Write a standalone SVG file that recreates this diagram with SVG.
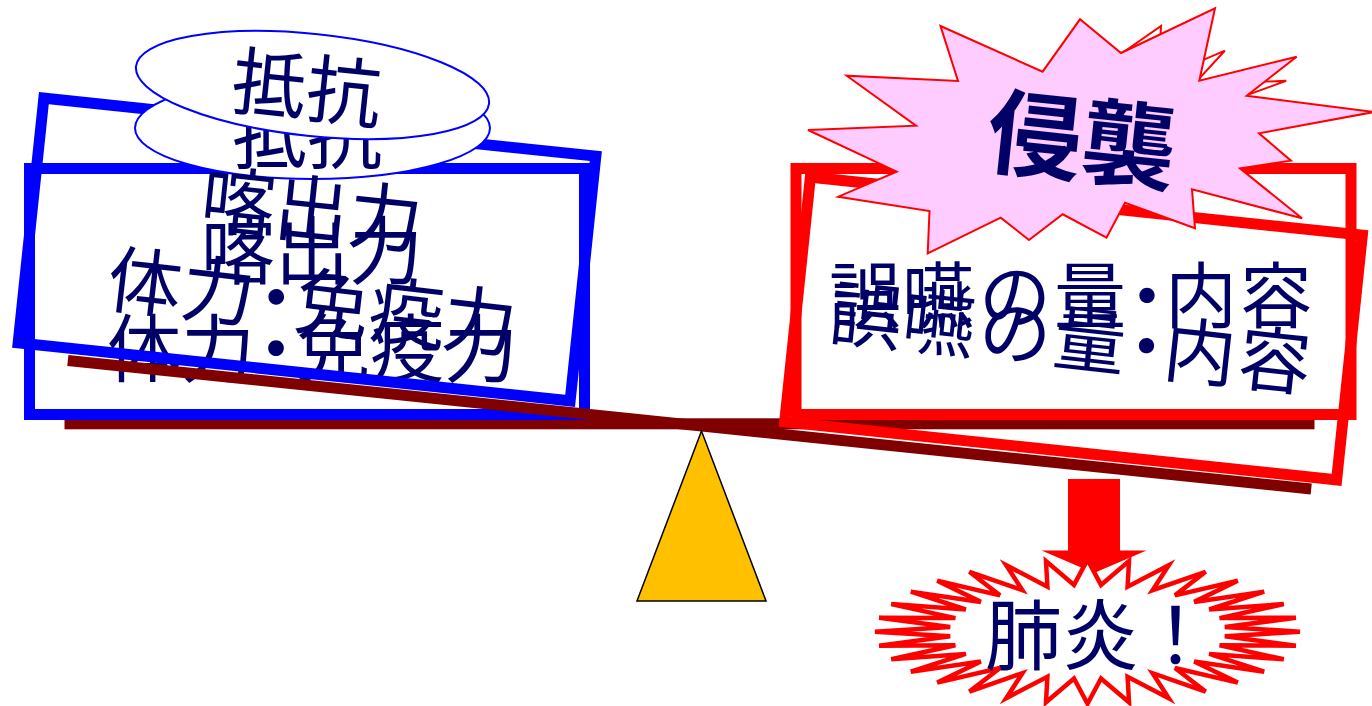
<svg xmlns="http://www.w3.org/2000/svg" width="1372" height="706" viewBox="0 0 1372 706">
<style>
.t{font-family:"Noto Sans CJK JP","Noto Sans CJK SC",sans-serif;fill:#000066}
.blue{fill:none;stroke:#0000FF;stroke-width:11}
.red{fill:none;stroke:#FF0000;stroke-width:11}
.beam{fill:#800000}
.ell{fill:#FFFFFF;stroke:#0000FF;stroke-width:2}
</style>
<rect width="1372" height="706" fill="#FFFFFF"/>
<g id="beam-level"><rect class="beam" x="64.5" y="418.3" width="1250" height="11"/></g>
<g id="resistance-box-level"><rect class="blue" x="29.5" y="168.5" width="555" height="246"/></g>
<g id="cough-level"><text class="t" font-size="74" x="201 275 349" y="278">喀出力</text></g>
<g id="stamina-level"><text class="t" font-size="74" x="107 181 239 296 370 444" y="376">体力・免疫力</text></g>
<g id="aspiration-box-level">
<rect class="red" x="796" y="168.5" width="555" height="246"/>
<text class="t" font-size="72" x="829 902 979 1054 1111 1165 1240" y="322">誤嚥の量・内容</text>
</g>
<g id="beam-tilted"><rect class="beam" x="64.5" y="418.3" width="1250" height="11" transform="translate(0,1) rotate(5.9 689.5 424)"/></g>
<g id="fulcrum"><polygon points="701.5,431 637,601 766,601" fill="#FFC000" stroke="#000000" stroke-width="1.5"/></g>
<g id="resistance-box-tilted"><rect class="blue" x="29.5" y="168.5" width="555" height="246" transform="translate(0,-42) rotate(6 307 291.5)"/></g>
<g id="resistance-label-level">
<ellipse class="ell" cx="312.5" cy="128" rx="177.5" ry="51"/>
<text class="t" font-size="75" x="232 307" y="163">抵抗</text>
</g>
<g id="resistance-label-tilted" transform="translate(0,-43) rotate(6 312.5 128)">
<ellipse class="ell" cx="312.5" cy="128" rx="177.5" ry="51"/>
<text class="t" font-size="75" x="232 307" y="159">抵抗</text>
</g>
<g id="cough-tilted"><text class="t" font-size="74" x="201 275 349" y="278" transform="translate(0,-41) rotate(6 312 250)">喀出力</text></g>
<g id="stamina-tilted"><text class="t" font-size="74" x="107 181 239 296 370 444" y="376" transform="translate(0,-47) rotate(6.6 311 347)">体力・免疫力</text></g>
<g id="aspiration-box-tilted">
<rect class="red" x="796" y="168.5" width="555" height="246" transform="translate(0,37) rotate(6 1073.5 291.5)"/>
<text class="t" font-size="72" x="829 902 979 1054 1111 1165 1240" y="322" transform="translate(0,43) rotate(6.2 1073 295)">誤嚥の量・内容</text>
</g>
<g id="invasion-back"><polygon points="968.2,71.2 1046.1,91.5 1066.5,49.9 1099.6,68.9 1161,26 1158.5,79.3 1224.8,50.7 1193.9,84.3 1286.2,80.8 1207.1,109.6 1233.1,125.2 1197.8,136.7 1247.7,164.8 1166.2,157.3 1172.9,184.6 1120.2,174.8 1111.2,201.8 1077.3,190.4 1056.5,212.7 1033.7,200.2 978,222 982.4,203.9 915.9,204.6 954.4,179.9 886.5,160.8 962.6,144.9 907.5,117.6 987.2,108.2" fill="#FFFFFF" stroke="#FF0000" stroke-width="2"/></g>
<g id="invasion">
<polygon points="940.5,26 1042.6,71.7 1080,19.3 1121,53 1215,8.3 1199.3,80.7 1296.7,56.7 1246.7,95.7 1374,112 1259,133.3 1291,160.7 1240,168.3 1302,218.3 1192,189.3 1195,228.3 1125,202.7 1106.5,237.7 1062.7,214.3 1029,240 1000.7,217.7 927.7,253.3 929.5,211 838.3,196.7 896.7,171.7 808,130 916,125.7 846.7,75.7 958,81" fill="#FFCCFF" stroke="#FF0000" stroke-width="2"/>
<text class="t" font-size="94" font-weight="bold" text-anchor="middle" x="1082" y="175" transform="rotate(6 1082 139)">侵襲</text>
</g>
<g id="connectors"><polygon points="1068,479 1120,479 1120,550.5 1146.5,550.5 1094,573 1041.5,550.5 1068,550.5" fill="#FF0000"/></g>
<g id="pneumonia">
<polygon points="1087.5,559.7 1101,584.9 1129,561.1 1127.6,586.7 1168.8,565.2 1152.6,590.2 1205.6,571.8 1175,595.4 1237.8,580.8 1194.2,601.9 1264.2,591.7 1209.2,609.5 1283.8,604.1 1219.6,618.1 1295.9,617.7 1224.8,627.1 1300,631.7 1224.8,636.3 1295.9,645.7 1219.6,645.3 1283.8,659.3 1209.2,653.9 1264.2,671.7 1194.2,661.5 1237.8,682.6 1175,668 1205.6,691.6 1152.6,673.2 1168.8,698.2 1127.6,676.7 1129,702.3 1101,678.5 1087.5,703.7 1074,678.5 1046,702.3 1047.4,676.7 1006.2,698.2 1022.4,673.2 969.4,691.6 1000,668 937.2,682.6 980.8,661.5 910.8,671.7 965.8,653.9 891.2,659.3 955.4,645.3 879.1,645.7 950.2,636.3 875,631.7 950.2,627.1 879.1,617.7 955.4,618.1 891.2,604.1 965.8,609.5 910.8,591.7 980.8,601.9 937.2,580.8 1000,595.4 969.4,571.8 1022.4,590.2 1006.2,565.2 1047.4,586.7 1046,561.1 1074,584.9" fill="#FFFFFF" stroke="#FF0000" stroke-width="4.5"/>
<text class="t" font-size="77" x="985 1062 1137" y="664">肺炎！</text>
</g>
</svg>
